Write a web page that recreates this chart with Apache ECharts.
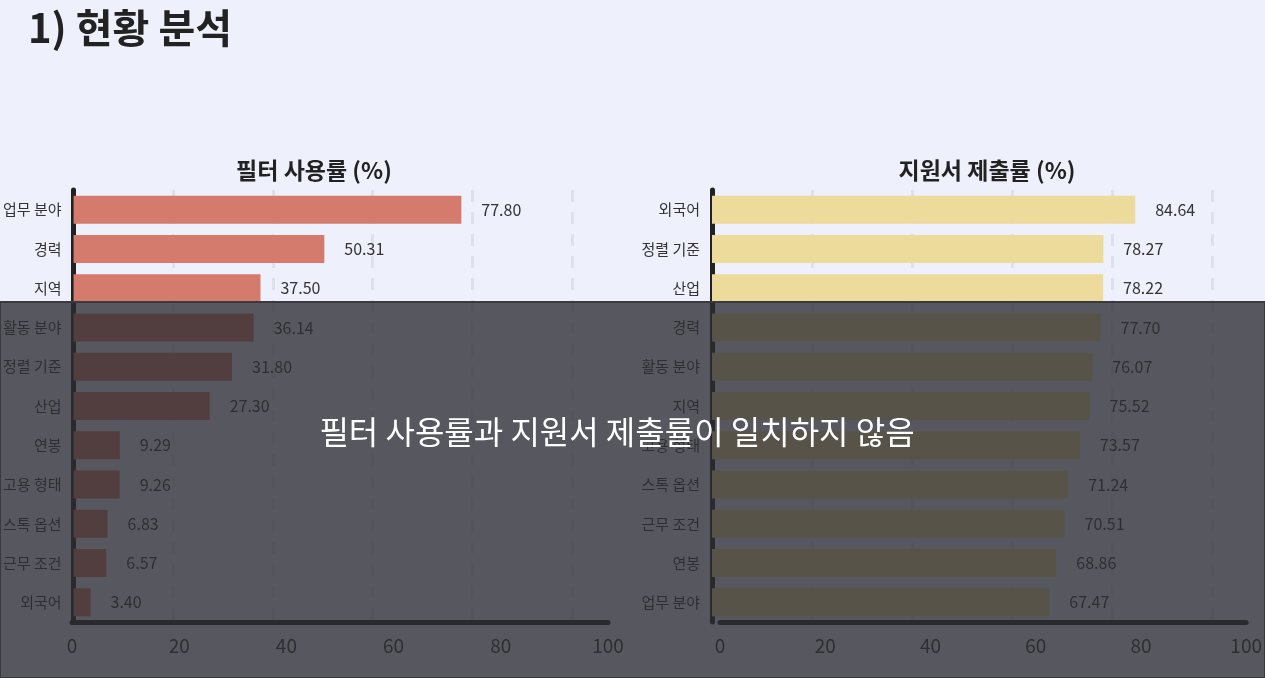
<!DOCTYPE html>
<html>
<head>
<meta charset="utf-8">
<script src="https://cdn.jsdelivr.net/npm/echarts@6/dist/echarts.min.js"></script>
<style>
  html, body { margin: 0; padding: 0; background: #eef0fc; }
  #main { width: 1265px; height: 678px; }
</style>
</head>
<body>
<div id="main"></div>
<script>
var filterCats = ['업무 분야', '경력', '지역', '활동 분야', '정렬 기준', '산업', '연봉', '고용 형태', '스톡 옵션', '근무 조건', '외국어'];
var filterVals = [77.80, 50.31, 37.50, 36.14, 31.80, 27.30, 9.29, 9.26, 6.83, 6.57, 3.40];
var applyCats = ['외국어', '정렬 기준', '산업', '경력', '활동 분야', '지역', '고용 형태', '스톡 옵션', '근무 조건', '연봉', '업무 분야'];
var applyVals = [84.64, 78.27, 78.22, 77.70, 76.07, 75.52, 73.57, 71.24, 70.51, 68.86, 67.47];

var myChart = echarts.init(document.getElementById('main'));
var font = 'Noto Sans CJK KR';

function barXAxis(grid) {
  return {
    type: 'value', gridIndex: grid, min: 0, max: 100, interval: 20,
    axisLine: { show: false }, axisTick: { show: false }, axisLabel: { show: false },
    splitLine: { show: true, lineStyle: { color: '#dfe1ea', width: 3, type: [12, 10] } }
  };
}
function labelXAxis(grid) {
  return {
    type: 'value', gridIndex: grid, min: 0, max: 100, interval: 20,
    axisLine: { show: true, lineStyle: { color: '#222', width: 5 } },
    axisTick: { show: false }, splitLine: { show: false },
    axisLabel: { color: '#333', fontSize: 19, fontFamily: font, margin: 14 }
  };
}
function catYAxis(grid, cats, show) {
  return {
    type: 'category', gridIndex: grid, data: cats, inverse: true,
    axisLine: { show: show, lineStyle: { color: '#222', width: 5 } },
    axisTick: { show: false },
    axisLabel: { show: show, color: '#333', fontSize: 15, fontFamily: font, margin: 12 }
  };
}
function barSeries(ax, vals, color) {
  return {
    type: 'bar', xAxisIndex: ax, yAxisIndex: ax, data: vals, barWidth: 28,
    itemStyle: { color: color },
    label: { show: true, position: 'right', distance: 20, color: '#333', fontSize: 16, fontFamily: font,
      formatter: function (p) { return p.value.toFixed(2); } }
  };
}

var option = {
  backgroundColor: '#eef0fc',
  animation: false,
  textStyle: { fontFamily: font },
  grid: [
    { left: 72, width: 500, top: 190, bottom: 56 },
    { left: 72, width: 536, top: 190, bottom: 56 },
    { left: 712, width: 500, top: 190, bottom: 56 },
    { left: 720, width: 545, top: 190, bottom: 56 }
  ],
  xAxis: [barXAxis(0), labelXAxis(1), barXAxis(2), labelXAxis(3)],
  yAxis: [catYAxis(0, filterCats, true), catYAxis(1, filterCats, false), catYAxis(2, applyCats, true), catYAxis(3, applyCats, false)],
  series: [barSeries(0, filterVals, '#d47b6d'), barSeries(2, applyVals, '#eddb9c')],
  graphic: [
    { type: 'text', left: 28, top: 8, style: { text: '1) 현황 분석', fontSize: 40, fontWeight: 'bold', fill: '#222', fontFamily: font } },
    { type: 'text', x: 314, y: 170, style: { text: '필터 사용률 (%)', fontSize: 23, fontWeight: 'bold', fill: '#222', fontFamily: font, align: 'center', verticalAlign: 'middle' } },
    { type: 'text', x: 987, y: 170, style: { text: '지원서 제출률 (%)', fontSize: 23, fontWeight: 'bold', fill: '#222', fontFamily: font, align: 'center', verticalAlign: 'middle' } },
    { type: 'rect', z: 100, shape: { x: 0, y: 302, width: 1265, height: 376 }, style: { fill: 'rgba(45,45,50,0.78)', stroke: '#3a3a3e', lineWidth: 2 } },
    { type: 'text', z: 101, x: 617, y: 432, style: { text: '필터 사용률과 지원서 제출률이 일치하지 않음', fontSize: 32, fill: '#fff', fontFamily: font, align: 'center', verticalAlign: 'middle' } }
  ]
};

myChart.setOption(option);
</script>
</body>
</html>
